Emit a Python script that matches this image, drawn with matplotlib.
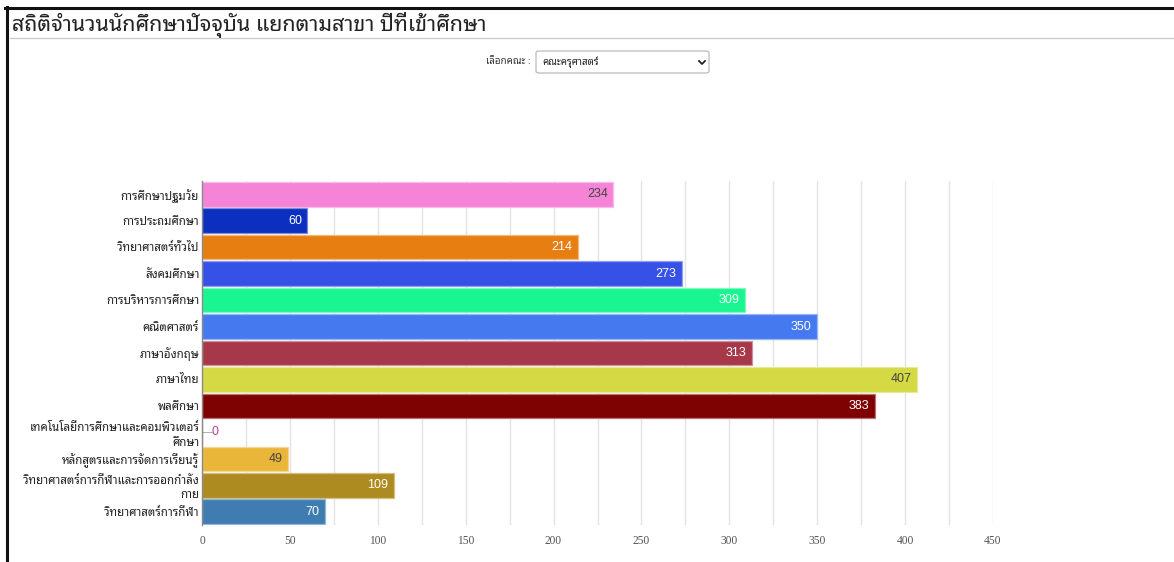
import matplotlib
matplotlib.use("Agg")
import matplotlib.pyplot as plt
from matplotlib import font_manager as fm
from matplotlib.patches import FancyBboxPatch
from matplotlib.lines import Line2D
from matplotlib.ticker import MultipleLocator
import matplotlib.colors as mcolors

# ---------------- data ----------------
title = "สถิติจำนวนนักศึกษาปัจจุบัน แยกตามสาขา ปีที่เข้าศึกษา"
select_label = "เลือกคณะ :"
select_value = "คณะครุศาสตร์"
categories = [
    "การศึกษาปฐมวัย",
    "การประถมศึกษา",
    "วิทยาศาสตร์ทั่วไป",
    "สังคมศึกษา",
    "การบริหารการศึกษา",
    "คณิตศาสตร์",
    "ภาษาอังกฤษ",
    "ภาษาไทย",
    "พลศึกษา",
    "เทคโนโลยีการศึกษาและคอมพิวเตอร์\nศึกษา",
    "หลักสูตรและการจัดการเรียนรู้",
    "วิทยาศาสตร์การกีฬาและการออกกำลัง\nกาย",
    "วิทยาศาสตร์การกีฬา",
]
values = [234, 60, 214, 273, 309, 350, 313, 407, 383, 0, 49, 109, 70]
bar_colors = ["#f584d6", "#0b2fbf", "#e67e12", "#3652e6", "#19f590", "#4479ef",
              "#a73849", "#d4d944", "#7e0202", "#c53d95", "#e9b63a", "#ae8b20",
              "#3e7cb1"]
value_colors = ["#444444", "white", "white", "white", "white", "white",
                "white", "#444444", "white", "#c53d95", "#444444", "white",
                "white"]
xticks = [0, 50, 100, 150, 200, 250, 300, 350, 400, 450]

# ---------------- fonts ----------------
avail = {f.name for f in fm.fontManager.ttflist}
pref = ["Noto Sans Thai Looped", "Sarabun", "Noto Sans Thai", "Tahoma",
        "Leelawadee UI", "Anuphan", "Athiti"]
thai = next((p for p in pref if p in avail), "DejaVu Sans")
plt.rcParams["font.family"] = [thai, "DejaVu Sans"]

W, H = 1174, 562
fig = plt.figure(figsize=(W / 100, H / 100), dpi=100)
fig.patch.set_facecolor("white")


def fx(px):
    return px / W


def fy(py):
    return 1 - py / H


# outer frame lines (top and left)
fig.add_artist(Line2D([fx(5), fx(W)], [fy(8), fy(8)], color="#111111", lw=2.2,
                      transform=fig.transFigure))
fig.add_artist(Line2D([fx(6.5), fx(6.5)], [fy(7), fy(H)], color="#111111", lw=2.2,
                      transform=fig.transFigure))

# title + underline
fig.text(fx(12), fy(25), title, fontsize=15.5, color="#222222", va="center",
         ha="left", family=[thai, "DejaVu Sans"])
fig.add_artist(Line2D([fx(10), fx(W)], [fy(38), fy(38)], color="#cccccc", lw=1,
                      transform=fig.transFigure))

# select box
fig.text(fx(531), fy(62), select_label, fontsize=7, color="#333333",
         ha="right", va="center", family=[thai, "DejaVu Sans"])
box = FancyBboxPatch((fx(536), fy(73)), fx(709 - 536), (73 - 51) / H,
                     boxstyle="round,pad=0,rounding_size=0.003",
                     transform=fig.transFigure, facecolor="white",
                     edgecolor="#bbbbbb", lw=0.9)
fig.add_artist(box)
fig.text(fx(542), fy(62), select_value, fontsize=7, color="#222222",
         ha="left", va="center", family=[thai, "DejaVu Sans"])
fig.add_artist(Line2D([fx(699), fx(702), fx(705)], [fy(61), fy(64), fy(61)],
                      color="#222222", lw=1.3, transform=fig.transFigure))

# ---------------- chart ----------------
ax = fig.add_axes([fx(202), fy(525), fx(993 - 202), (525 - 181) / H])
ypos = list(range(len(categories)))


def lighten(c, a=0.45):
    r, g, b = mcolors.to_rgb(c)
    return (r + (1 - r) * a, g + (1 - g) * a, b + (1 - b) * a)


edges = [lighten(c) for c in bar_colors]
ax.barh(ypos, values, height=0.93, color=bar_colors, edgecolor=edges,
        linewidth=0.9, zorder=3)

for i, v in enumerate(values):
    if v > 0:
        ax.annotate(str(v), xy=(v, i), xytext=(-4, 0), textcoords="offset points",
                    ha="right", va="center", fontsize=9, color=value_colors[i],
                    family=["Liberation Sans", "DejaVu Sans"], zorder=4)
    else:
        ax.annotate("—", xy=(v, i), xytext=(0.5, 0), textcoords="offset points",
                    ha="left", va="center", fontsize=7, color="#999999",
                    family=["Liberation Sans", "DejaVu Sans"], zorder=4)
        ax.annotate(str(v), xy=(v, i), xytext=(6.5, 0), textcoords="offset points",
                    ha="left", va="center", fontsize=9, color=value_colors[i],
                    family=["Liberation Sans", "DejaVu Sans"], zorder=4)

ax.set_xlim(0, 450)
ax.set_ylim(len(categories) - 0.5, -0.5)
ax.set_xticks(xticks)
ax.xaxis.set_minor_locator(MultipleLocator(25))
ax.set_xticklabels([str(t) for t in xticks], fontsize=8.3, color="#555555",
                   family=["Liberation Serif", "DejaVu Serif"])
ax.set_yticks(ypos)
ax.set_yticklabels(categories, fontsize=8.3, color="#222222", linespacing=1.45)
ax.tick_params(axis="both", which="both", length=0)
ax.tick_params(axis="x", pad=7)
ax.tick_params(axis="y", pad=2)
ax.grid(axis="x", which="both", color="#e3e3e3", lw=1, zorder=0)
ax.set_axisbelow(True)
for s in ["top", "right", "bottom"]:
    ax.spines[s].set_visible(False)
ax.spines["left"].set_color("#888888")
ax.spines["left"].set_linewidth(1)
ax.spines["left"].set_zorder(5)

fig.savefig("out.png", dpi=100, facecolor="white")
